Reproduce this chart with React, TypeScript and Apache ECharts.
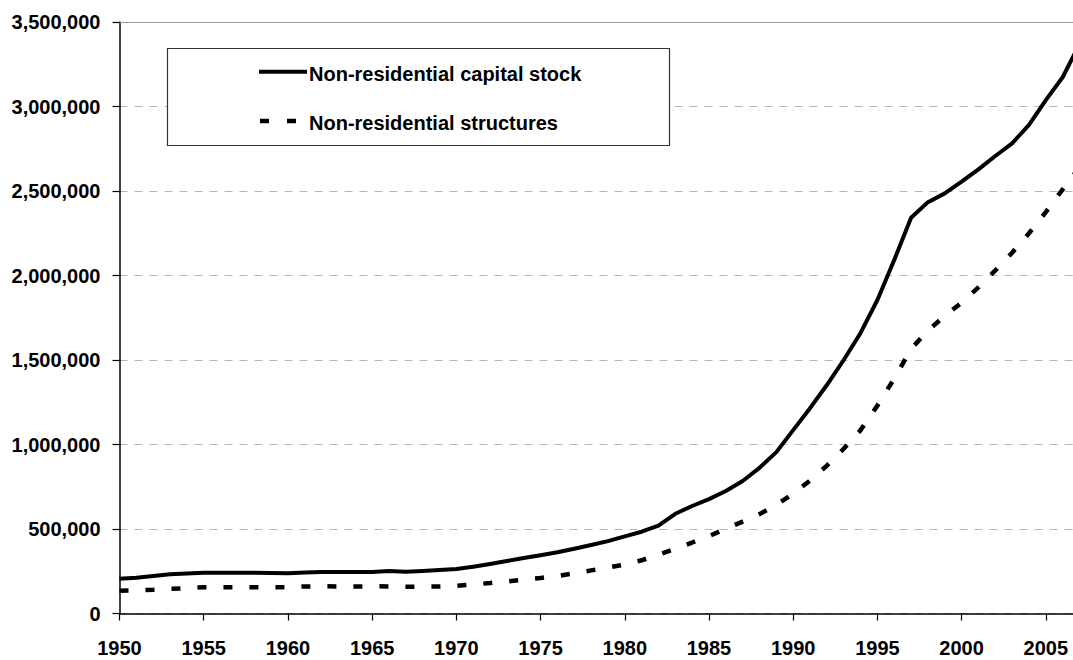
import React, { useEffect, useRef } from "react";
import * as echarts from "echarts";

const years: number[] = [
  1950, 1951, 1952, 1953, 1954, 1955, 1956, 1957, 1958, 1959,
  1960, 1961, 1962, 1963, 1964, 1965, 1966, 1967, 1968, 1969,
  1970, 1971, 1972, 1973, 1974, 1975, 1976, 1977, 1978, 1979,
  1980, 1981, 1982, 1983, 1984, 1985, 1986, 1987, 1988, 1989,
  1990, 1991, 1992, 1993, 1994, 1995, 1996, 1997, 1998, 1999,
  2000, 2001, 2002, 2003, 2004, 2005, 2006, 2007,
];

const capitalStock: number[] = [
  205000, 212000, 222000, 232000, 237000, 241000, 241000, 241000, 241000, 240000,
  238000, 242000, 245000, 245000, 245000, 246000, 251000, 247000, 251000, 257000,
  263000, 277000, 293000, 311000, 328000, 345000, 362000, 383000, 405000, 428000,
  456000, 484000, 520000, 590000, 636000, 677000, 725000, 784000, 862000, 955000,
  1085000, 1215000, 1352000, 1500000, 1660000, 1855000, 2092000, 2342000, 2434000, 2486000,
  2555000, 2628000, 2707000, 2782000, 2891000, 3038000, 3173000, 3370000,
];

const structures: number[] = [
  135000, 137000, 140000, 146000, 150000, 155000, 155000, 155000, 155000, 155000,
  156000, 160000, 161000, 160000, 160000, 161000, 160000, 159000, 159000, 160000,
  164000, 172000, 180000, 190000, 200000, 210000, 222000, 238000, 255000, 272000,
  289000, 315000, 348000, 383000, 420000, 458000, 502000, 544000, 588000, 643000,
  710000, 787000, 875000, 975000, 1085000, 1230000, 1390000, 1565000, 1675000, 1760000,
  1840000, 1930000, 2030000, 2135000, 2250000, 2375000, 2510000, 2640000,
];

const seriesNames: string[] = ["Non-residential capital stock", "Non-residential structures"];

const FONT = "'Liberation Sans', Arial, sans-serif";

export default function App() {
  const ref = useRef<HTMLDivElement>(null);

  useEffect(() => {
    if (!ref.current) return;
    const chart = echarts.init(ref.current, undefined, { renderer: "svg" });
    const option: any = {
      animation: false,
      backgroundColor: "#ffffff",
      grid: {
        left: 119.5,
        top: 22,
        width: 960,
        height: 591.5,
        containLabel: false,
        outerBoundsMode: "none",
      },
      xAxis: [
        {
          type: "value",
          min: 1950,
          max: 2007,
          interval: 5,
          axisLine: { show: true, lineStyle: { color: "#000", width: 1.5 } },
          axisTick: { show: true, length: 7, lineStyle: { color: "#000", width: 1.2 } },
          splitLine: { show: false },
          axisLabel: {
            margin: 24,
            color: "#000",
            fontFamily: FONT,
            fontWeight: "bold",
            fontSize: 20,
            formatter: (v: number) => (v % 5 === 0 && v <= 2005 ? String(v) : ""),
          },
        },
        {
          type: "value",
          position: "top",
          min: 1950,
          max: 2007,
          interval: 5,
          axisLine: { show: true, onZero: false, lineStyle: { color: "#999", width: 1 } },
          axisTick: { show: false },
          axisLabel: { show: false },
          splitLine: { show: false },
        },
      ],
      yAxis: {
        type: "value",
        min: 0,
        max: 3500000,
        interval: 500000,
        axisLine: { show: true, lineStyle: { color: "#000", width: 1.5 } },
        axisTick: { show: true, length: 7, lineStyle: { color: "#000", width: 1.2 } },
        splitLine: { show: true, lineStyle: { color: "#b5b5b5", type: [8, 7], width: 1 } },
        axisLabel: {
          margin: 19,
          color: "#000",
          fontFamily: FONT,
          fontWeight: "bold",
          fontSize: 20,
          formatter: (v: number) => v.toLocaleString("en-US"),
        },
      },
      series: [
        {
          name: seriesNames[0],
          type: "line",
          xAxisIndex: 0,
          data: years.map((y, i) => [y, capitalStock[i]]),
          symbol: "none",
          lineStyle: { color: "#000", width: 4, join: "round" },
          z: 3,
        },
        {
          name: seriesNames[1],
          type: "line",
          xAxisIndex: 0,
          data: years.map((y, i) => [y, structures[i]]),
          symbol: "none",
          lineStyle: { color: "#000", width: 4.5, type: [9, 17], cap: "butt" },
          z: 2,
        },
      ],
      graphic: [
        {
          type: "rect",
          shape: { x: 167.5, y: 48.5, width: 502, height: 97 },
          style: { fill: "#fff", stroke: "#333", lineWidth: 1.2 },
          z: 10,
        },
        {
          type: "line",
          shape: { x1: 259, y1: 71.7, x2: 307, y2: 71.7 },
          style: { stroke: "#000", lineWidth: 4 },
          z: 11,
        },
        {
          type: "line",
          shape: { x1: 260, y1: 121, x2: 297, y2: 121 },
          style: { stroke: "#000", lineWidth: 4.5, lineDash: [9, 18] },
          z: 11,
        },
        {
          type: "text",
          x: 309,
          y: 74,
          style: {
            text: seriesNames[0],
            fill: "#000",
            font: `bold 20px ${FONT}`,
            textVerticalAlign: "middle",
            verticalAlign: "middle",
          },
          z: 11,
        },
        {
          type: "text",
          x: 309,
          y: 123,
          style: {
            text: seriesNames[1],
            fill: "#000",
            font: `bold 20px ${FONT}`,
            textVerticalAlign: "middle",
            verticalAlign: "middle",
          },
          z: 11,
        },
      ],
    };
    chart.setOption(option);
    return () => chart.dispose();
  }, []);

  return (
    <div
      ref={ref}
      style={{ position: "fixed", left: 0, top: 0, width: 1073, height: 660, background: "#fff" }}
    />
  );
}
